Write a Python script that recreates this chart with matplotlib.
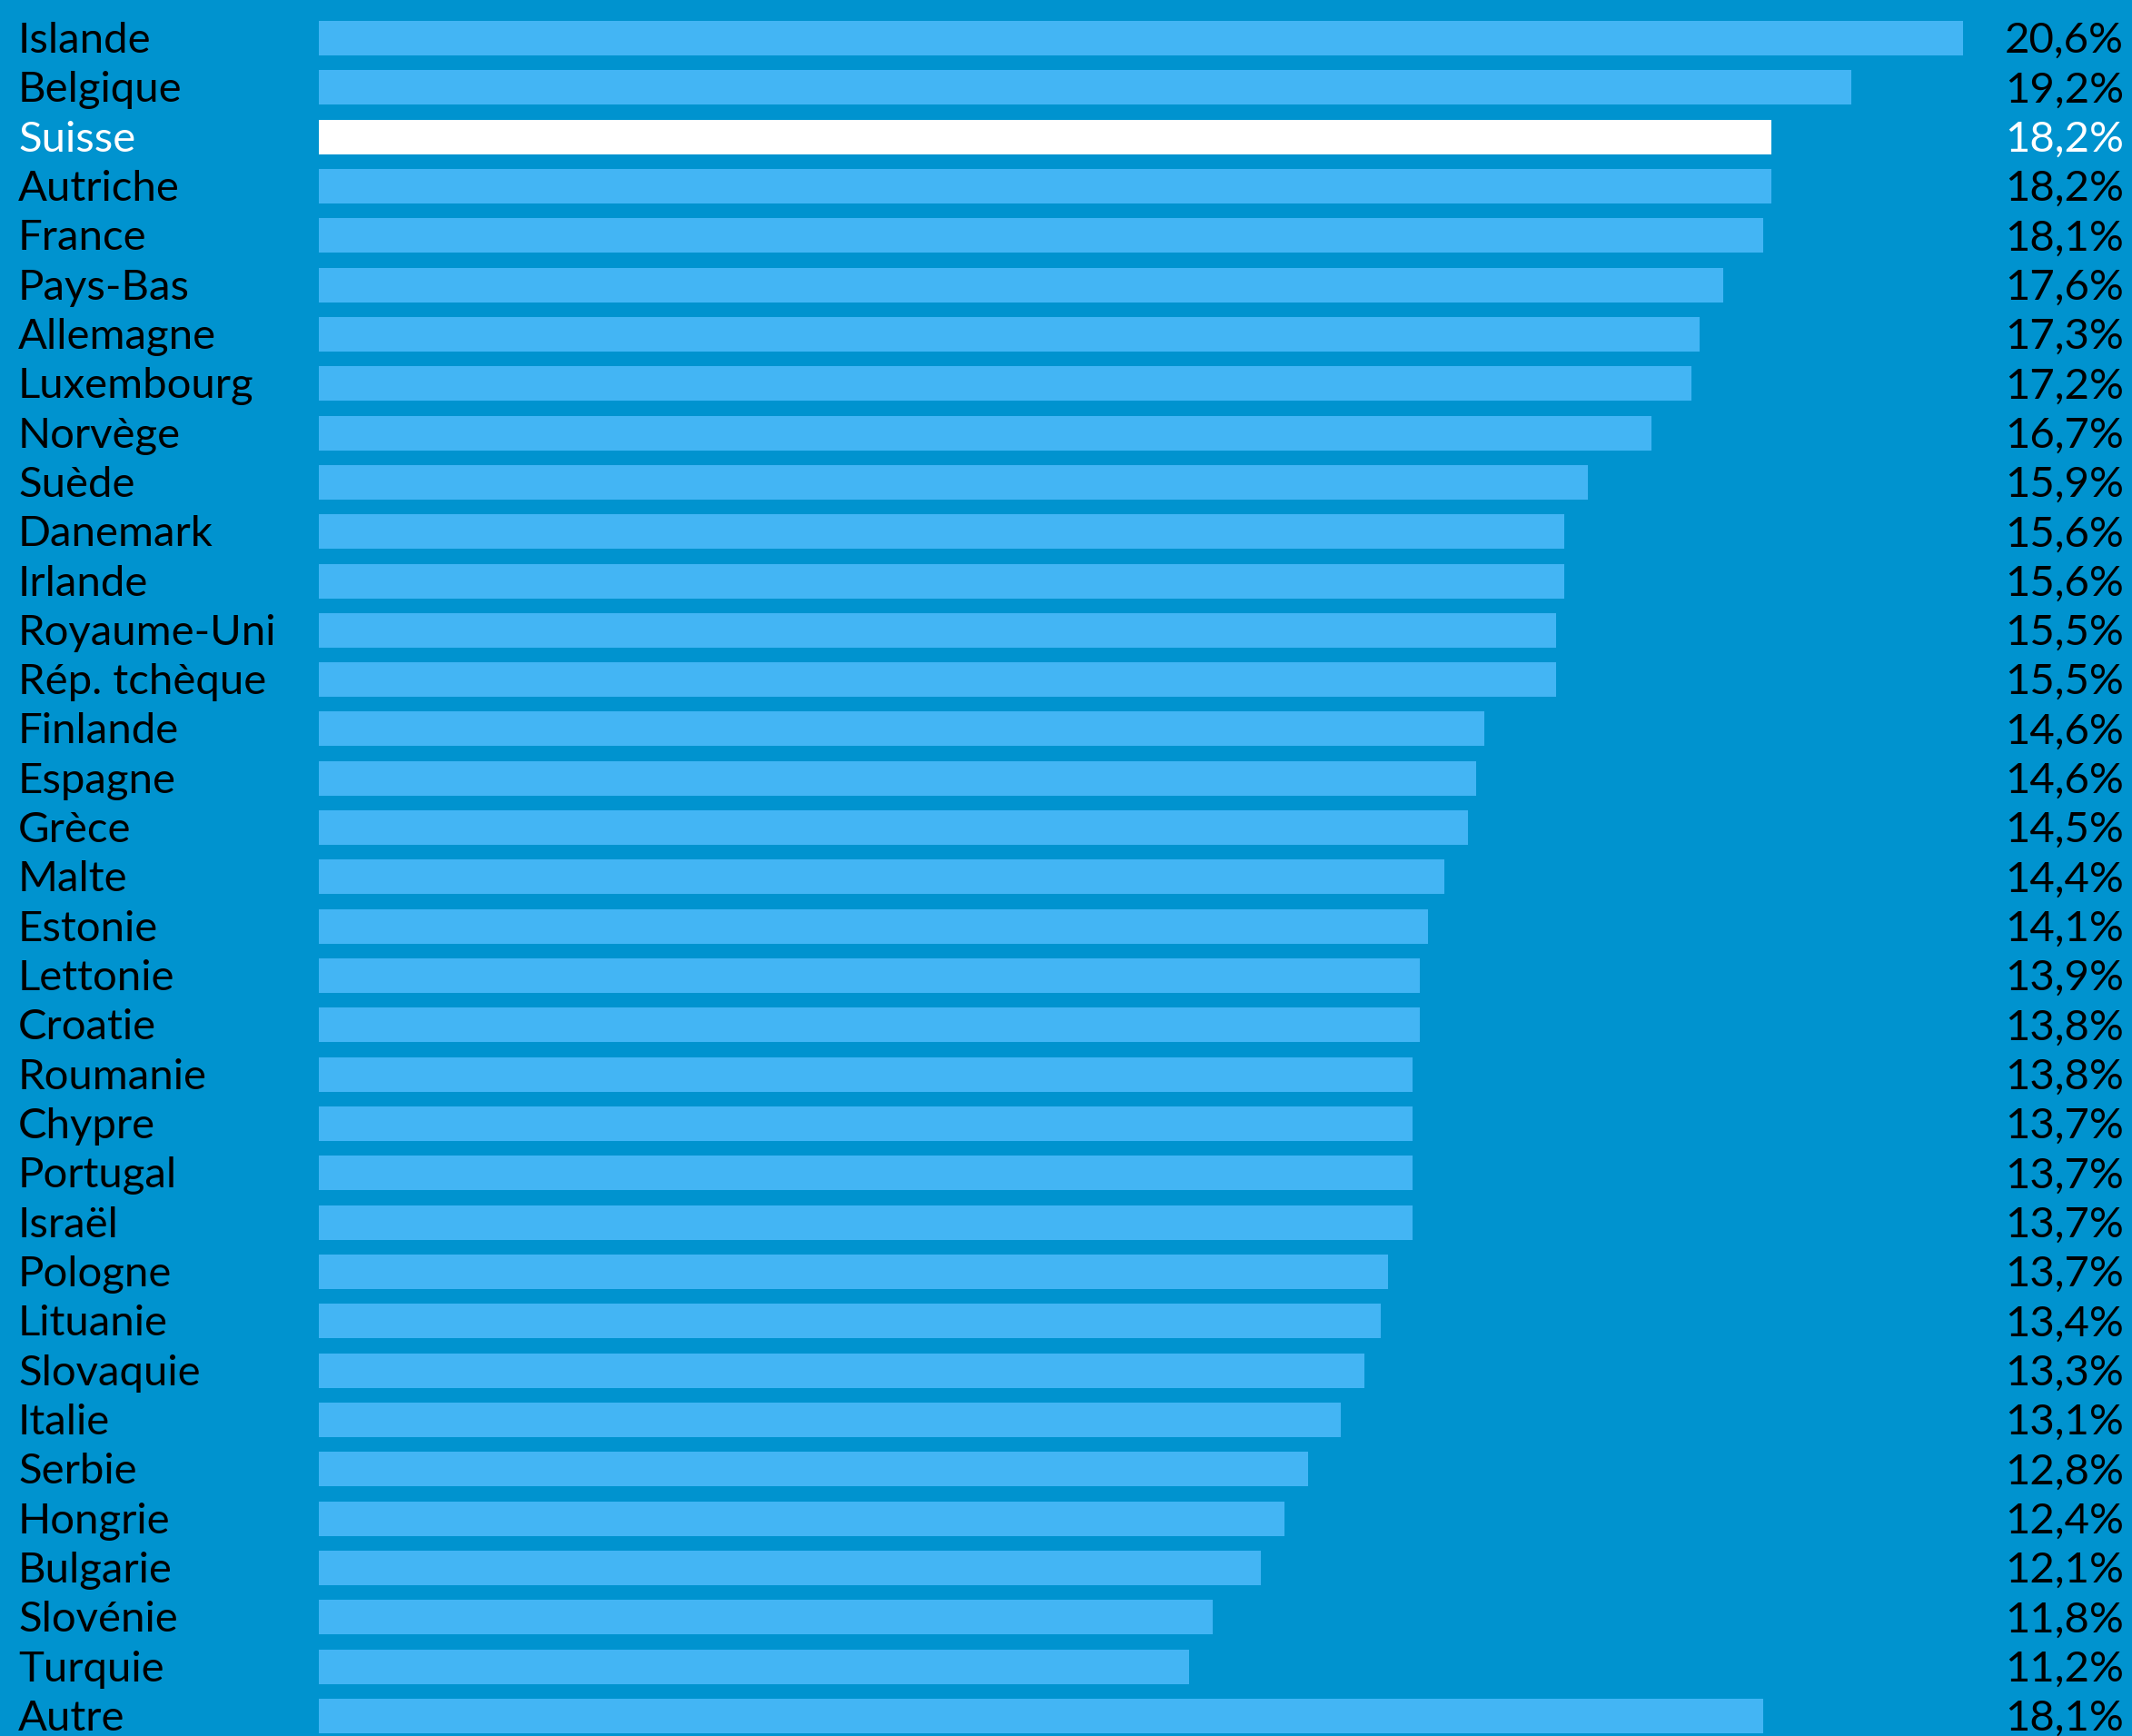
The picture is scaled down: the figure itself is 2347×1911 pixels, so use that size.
import matplotlib.pyplot as plt
import numpy as np

#%%Data
pays = ['Islande', 'Belgique', 'Suisse', 'Autriche', 'France', 'Pays-Bas', 'Allemagne',
        'Luxembourg', 'Norvège', 'Suède', 'Danemark', 'Irlande', 'Royaume-Uni',
        'Rép. tchèque', 'Finlande', 'Espagne', 'Grèce', 'Malte', 'Estonie', 'Lettonie',
        'Croatie', 'Roumanie', 'Chypre', 'Portugal', 'Israël', 'Pologne', 'Lituanie',
        'Slovaquie', 'Italie', 'Serbie', 'Hongrie', 'Bulgarie', 'Slovénie', 'Turquie', 'Autre']
# bar lengths as drawn
longueurs = [20.6, 19.2, 18.2, 18.2, 18.1, 17.6, 17.3, 17.2, 16.7, 15.9, 15.6, 15.6, 15.5,
             15.5, 14.6, 14.5, 14.4, 14.1, 13.9, 13.8, 13.8, 13.7, 13.7, 13.7, 13.7, 13.4,
             13.3, 13.1, 12.8, 12.4, 12.1, 11.8, 11.2, 10.9, 18.1]
# value labels as printed
labels_val = ['20,6%', '19,2%', '18,2%', '18,2%', '18,1%', '17,6%', '17,3%', '17,2%', '16,7%',
              '15,9%', '15,6%', '15,6%', '15,5%', '15,5%', '14,6%', '14,6%', '14,5%', '14,4%',
              '14,1%', '13,9%', '13,8%', '13,8%', '13,7%', '13,7%', '13,7%', '13,7%', '13,4%',
              '13,3%', '13,1%', '12,8%', '12,4%', '12,1%', '11,8%', '11,2%', '18,1%']
surligne = 'Suisse'

#%%Style
fond = '#0093CF'
barre = '#43B5F4'
W, H, dpi = 2347, 1911, 100
px_unit = 87.86  # pixels per percent
x0 = 351         # pixel of zero
pitch = 54.32
top = 42         # center of first row, px from top

plt.rcParams['font.family'] = ['Lato', 'DejaVu Sans']
fig = plt.figure(figsize=(W/dpi, H/dpi), dpi=dpi, facecolor=fond)
ax = fig.add_axes([0, 0, 1, 1])
ax.set_facecolor(fond)
ax.set_xlim(-x0/px_unit, (W-x0)/px_unit)
ax.set_ylim((H-top)/pitch, -top/pitch)
ax.axis('off')

y = np.arange(len(pays))
couleurs = ['white' if p == surligne else barre for p in pays]
ax.barh(y, longueurs, height=0.70, color=couleurs, left=0)

for i, p in enumerate(pays):
    c = 'white' if p == surligne else 'black'
    yt = 1-(top+3+i*pitch)/H
    ax.text(20/W, yt, p, transform=fig.transFigure, fontsize=34,
            color=c, ha='left', va='center')
    ax.text(2207/W, yt, labels_val[i], transform=fig.transFigure, fontsize=34,
            color=c, ha='left', va='center')

fig.savefig('out.png', dpi=dpi, facecolor=fond)
